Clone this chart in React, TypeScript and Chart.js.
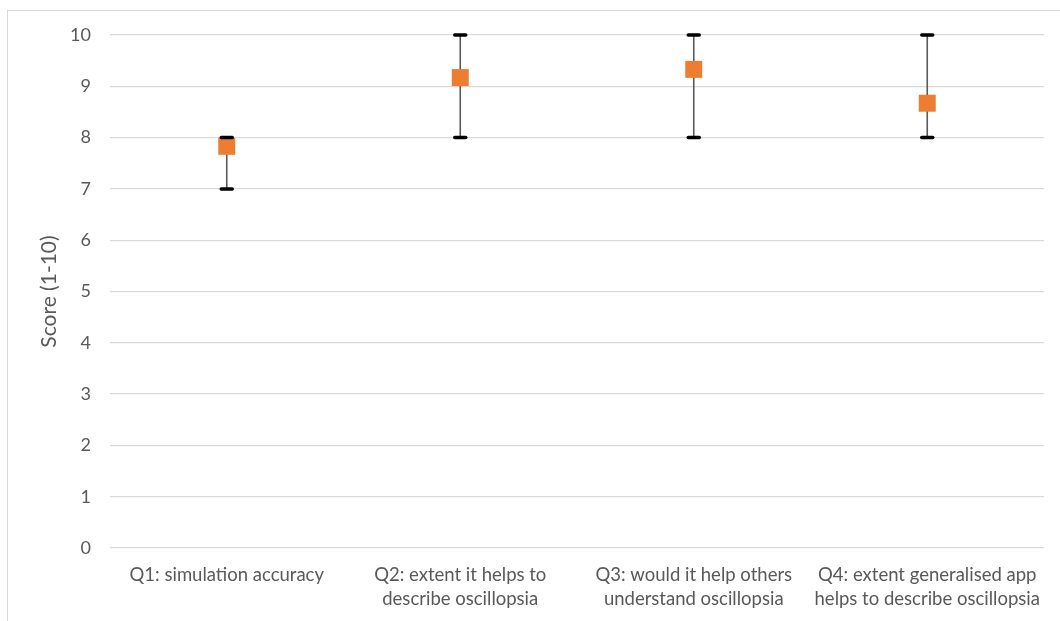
import React, { useEffect, useRef } from "react";
import { Chart, registerables } from "chart.js";

Chart.register(...registerables);

const categories: string[][] = [
  ["Q1: simulation accuracy"],
  ["Q2: extent it helps to", "describe oscillopsia"],
  ["Q3: would it help others", "understand oscillopsia"],
  ["Q4: extent generalised app", "helps to describe oscillopsia"],
];
const meanScores = [7.83, 9.17, 9.33, 8.67];
const minScores = [7, 8, 8, 8];
const maxScores = [8, 10, 10, 10];
const yTicks = [0, 1, 2, 3, 4, 5, 6, 7, 8, 9, 10];

const FONT = "Lato";

const frame = {
  id: "frame",
  beforeDraw(chart: any) {
    const ctx = chart.ctx;
    ctx.save();
    ctx.fillStyle = "#ffffff";
    ctx.fillRect(0, 0, chart.width, chart.height);
    ctx.strokeStyle = "#D9D9D9";
    ctx.lineWidth = 1;
    ctx.strokeRect(7.5, 10.5, chart.width + 20, chart.height + 20);
    ctx.restore();
  },
};

const errorBars = {
  id: "errorBars",
  beforeDatasetsDraw(chart: any) {
    const ctx = chart.ctx;
    const xs = chart.scales.x;
    const ys = chart.scales.y;
    ctx.save();
    ctx.strokeStyle = "#595959";
    ctx.lineWidth = 1.6;
    minScores.forEach((mn, i) => {
      const x = xs.getPixelForValue(i);
      ctx.beginPath();
      ctx.moveTo(x, ys.getPixelForValue(mn));
      ctx.lineTo(x, ys.getPixelForValue(maxScores[i]));
      ctx.stroke();
    });
    ctx.restore();
  },
  afterDatasetsDraw(chart: any) {
    const ctx = chart.ctx;
    const xs = chart.scales.x;
    const ys = chart.scales.y;
    ctx.save();
    ctx.strokeStyle = "#000000";
    ctx.lineWidth = 3.5;
    ctx.lineCap = "round";
    minScores.forEach((mn, i) => {
      const x = xs.getPixelForValue(i);
      [mn, maxScores[i]].forEach((v) => {
        const y = ys.getPixelForValue(v);
        ctx.beginPath();
        ctx.moveTo(x - 5.5, y);
        ctx.lineTo(x + 5.5, y);
        ctx.stroke();
      });
    });
    ctx.restore();
  },
};

export default function App() {
  const ref = useRef<HTMLCanvasElement>(null);
  useEffect(() => {
    document.body.style.margin = "0";
    const chart = new Chart(ref.current!, {
      type: "line",
      data: {
        labels: categories as any,
        datasets: [
          {
            data: meanScores,
            showLine: false,
            pointStyle: "rect",
            pointRadius: 12,
            pointHoverRadius: 12,
            pointBackgroundColor: "#ED7D31",
            pointBorderWidth: 0,
            borderColor: "#ED7D31",
          },
        ],
      },
      options: {
        animation: false,
        responsive: false,
        devicePixelRatio: 1,
        layout: { padding: { left: 0, right: 16, top: 35, bottom: 0 } },
        plugins: {
          legend: { display: false },
          tooltip: { enabled: false },
        },
        scales: {
          x: {
            offset: true,
            grid: { display: false, drawTicks: false },
            border: { display: false },
            ticks: {
              color: "#595959",
              font: { family: FONT, size: 18.5, lineHeight: 1.3 },
              padding: 15,
              maxRotation: 0,
              autoSkip: false,
            },
            afterFit(scale: any) {
              scale.height = 73;
            },
          },
          y: {
            min: 0,
            max: 10,
            afterBuildTicks(scale: any) {
              scale.ticks = yTicks.map((v) => ({ value: v }));
            },
            grid: { color: "#D9D9D9", lineWidth: 1.3, drawTicks: false },
            border: { display: false },
            ticks: {
              color: "#595959",
              font: { family: FONT, size: 18 },
              padding: 19,
            },
            title: {
              display: true,
              text: "Score (1-10)",
              color: "#595959",
              font: { family: FONT, size: 21 },
              padding: { top: 37, bottom: 8 },
            },
            afterFit(scale: any) {
              scale.width = 110;
            },
          },
        },
      },
      plugins: [frame, errorBars],
    });
    return () => chart.destroy();
  }, []);
  return (
    <div style={{ position: "absolute", left: 0, top: 0, width: 1060, height: 621 }}>
      <canvas ref={ref} width={1060} height={621} style={{ width: 1060, height: 621 }} />
    </div>
  );
}
